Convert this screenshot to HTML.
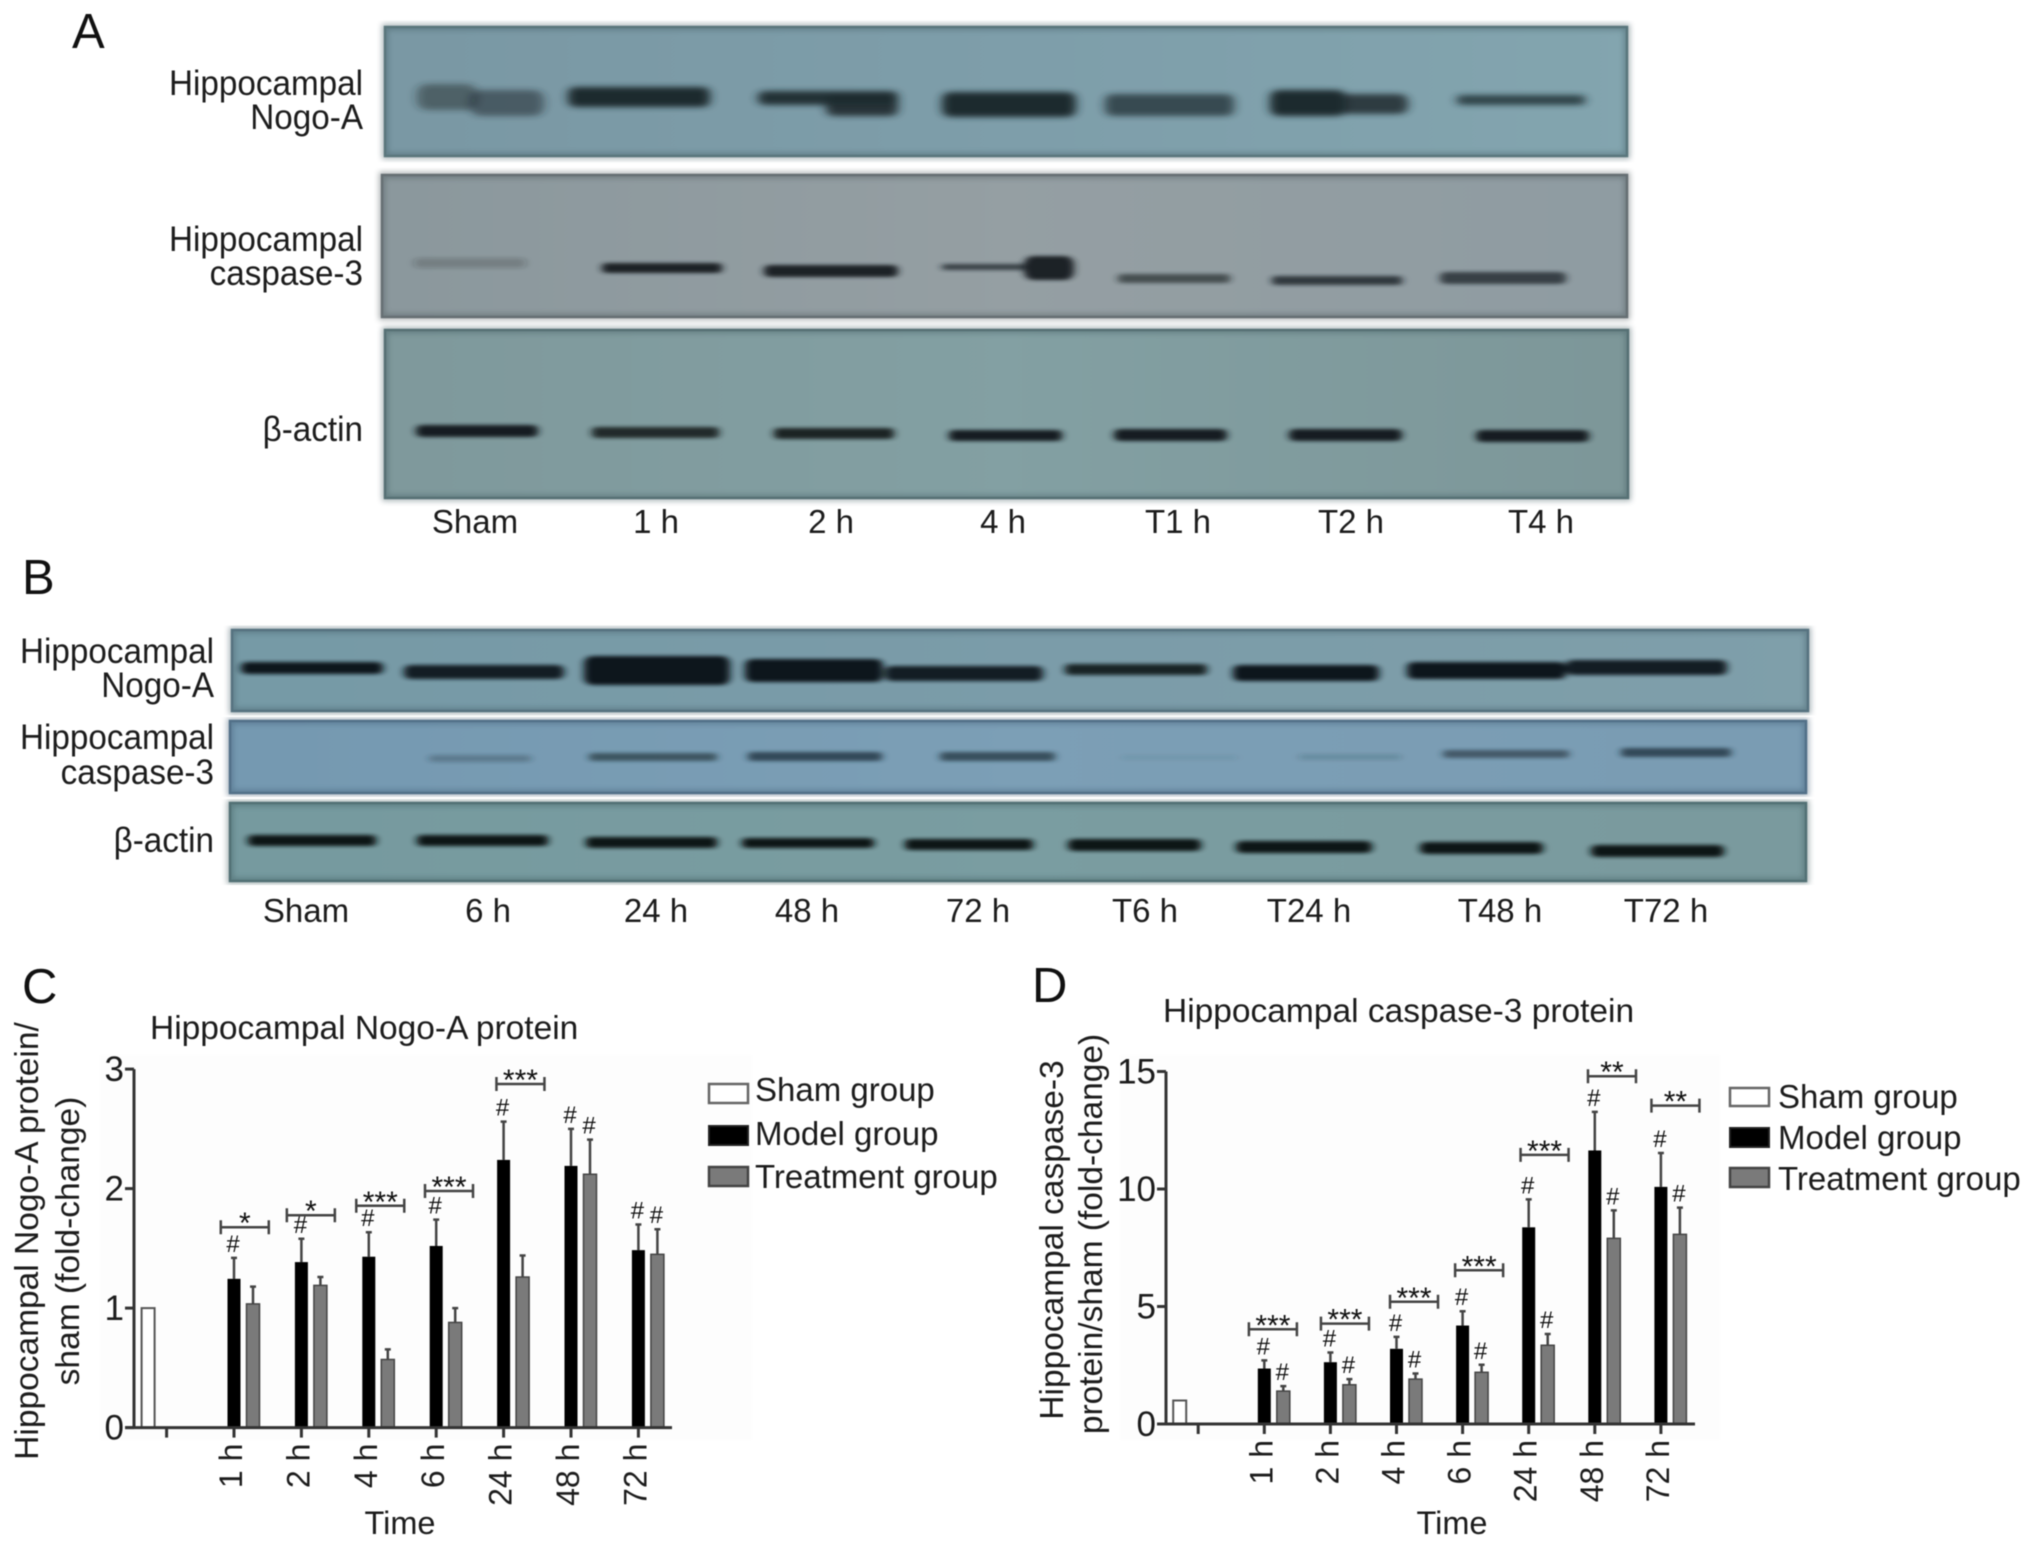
<!DOCTYPE html>
<html lang="en">
<head>
<meta charset="utf-8">
<title>Hippocampal Nogo-A and caspase-3 western blots</title>
<style>
html,body{margin:0;padding:0;background:#fff}
svg{display:block;filter:blur(.65px)}
text{font-family:"Liberation Sans",sans-serif;fill:#1c1c1c}
.lab{font-size:35px;text-anchor:end}
.lane{font-size:33px;text-anchor:middle}
.letter{font-size:49px;fill:#111}
.ttl{font-size:33.5px}
.leg{font-size:33px}
.edge{stroke-width:2.5;fill:none}
.vig{stroke-width:6;fill:none;opacity:.45}
</style>
</head>
<body>
<svg id="figure" xmlns="http://www.w3.org/2000/svg" width="2032" height="1548" viewBox="0 0 2032 1548">
<defs>
<filter id="b3" x="-5%" y="-150%" width="110%" height="400%"><feGaussianBlur stdDeviation="5 3"/></filter>
<filter id="b2" x="-5%" y="-150%" width="110%" height="400%"><feGaussianBlur stdDeviation="4 1.8"/></filter>
<filter id="v" x="-2%" y="-5%" width="104%" height="110%"><feGaussianBlur stdDeviation="3"/></filter>
<linearGradient id="gA1"><stop offset="0" stop-color="#7a98a4"/><stop offset=".5" stop-color="#7e9eaa"/><stop offset="1" stop-color="#83a5af"/></linearGradient>
<linearGradient id="gA2"><stop offset="0" stop-color="#8b989d"/><stop offset=".5" stop-color="#959fa3"/><stop offset="1" stop-color="#8f9ca2"/></linearGradient>
<linearGradient id="gA3"><stop offset="0" stop-color="#7f999c"/><stop offset=".5" stop-color="#83a0a3"/><stop offset="1" stop-color="#7d9799"/></linearGradient>
<linearGradient id="gB1"><stop offset="0" stop-color="#769aa6"/><stop offset=".5" stop-color="#7b9ca9"/><stop offset="1" stop-color="#7f9faa"/></linearGradient>
<linearGradient id="gB2"><stop offset="0" stop-color="#7599b1"/><stop offset=".5" stop-color="#7c9fb6"/><stop offset="1" stop-color="#7a9cb3"/></linearGradient>
<linearGradient id="gB3"><stop offset="0" stop-color="#769a9f"/><stop offset=".5" stop-color="#7a9da1"/><stop offset="1" stop-color="#7a9a9e"/></linearGradient>
</defs>
<rect width="2032" height="1548" fill="#fff"/>

<text class="letter" x="72" y="48">A</text>
<g>
<text class="lab" transform="translate(363,95) scale(.95,1)">Hippocampal</text><text class="lab" transform="translate(363,129) scale(.95,1)">Nogo-A</text>
<text class="lab" transform="translate(363,251) scale(.95,1)">Hippocampal</text><text class="lab" transform="translate(363,285) scale(.95,1)">caspase-3</text>
<text class="lab" transform="translate(363,441) scale(.95,1)">β-actin</text>
</g>

<g>
<rect x="385" y="27" width="1242" height="129" fill="url(#gA1)"/>
<g filter="url(#b3)" fill="#1d2a2e">
<rect x="417" y="84" width="60" height="26" rx="10" opacity=".5"/>
<rect x="470" y="90" width="74" height="26" rx="10" opacity=".55"/>
<rect x="568" y="87" width="142" height="20" rx="7"/>
<rect x="758" y="91" width="140" height="14" rx="6" opacity=".95"/>
<rect x="826" y="94" width="72" height="22" rx="7" opacity=".9"/>
<rect x="942" y="92" width="134" height="25" rx="8"/>
<rect x="1105" y="94" width="129" height="22" rx="7" opacity=".72"/>
<rect x="1270" y="90" width="76" height="26" rx="8"/>
<rect x="1340" y="94" width="68" height="20" rx="8" opacity=".85"/>
<rect x="1457" y="95" width="128" height="10" rx="3" opacity=".8"/>
</g>
<rect class="vig" x="385" y="27" width="1242" height="129" stroke="#3f5a60" filter="url(#v)"/>
<rect class="edge" x="385" y="27" width="1242" height="129" stroke="#5a767c"/>
</g>

<g>
<rect x="382" y="175" width="1245" height="142" fill="url(#gA2)"/>
<g filter="url(#b2)" fill="#1c2225">
<rect x="414" y="258" width="112" height="10" rx="4" opacity=".22"/>
<rect x="602" y="263" width="120" height="10" rx="4" opacity="1"/>
<rect x="764" y="265" width="134" height="12" rx="5" opacity="1"/>
<rect x="942" y="264" width="90" height="6" rx="2" opacity=".75"/>
<rect x="1024" y="256" width="50" height="24" rx="9"/>
<rect x="1118" y="274" width="112" height="9" rx="3" opacity=".65"/>
<rect x="1272" y="276" width="130" height="9" rx="3" opacity=".8"/>
<rect x="1440" y="272" width="126" height="12" rx="5" opacity=".75"/>
</g>
<rect class="vig" x="382" y="175" width="1245" height="142" stroke="#4a5458" filter="url(#v)"/>
<rect class="edge" x="382" y="175" width="1245" height="142" stroke="#666f73"/>
</g>

<g>
<rect x="385" y="330" width="1243" height="168" fill="url(#gA3)"/>
<g filter="url(#b2)" fill="#141e20">
<rect x="416" y="425" width="122" height="12" rx="5"/>
<rect x="592" y="427" width="127" height="11" rx="4" opacity=".9"/>
<rect x="774" y="428" width="120" height="11" rx="4" opacity=".95"/>
<rect x="949" y="430" width="113" height="11" rx="4"/>
<rect x="1114" y="429" width="113" height="12" rx="5"/>
<rect x="1289" y="429" width="113" height="12" rx="5"/>
<rect x="1476" y="430" width="113" height="12" rx="5"/>
</g>
<rect class="vig" x="385" y="330" width="1243" height="168" stroke="#3f5a5e" filter="url(#v)"/>
<rect class="edge" x="385" y="330" width="1243" height="168" stroke="#567074"/>
</g>

<g>
<text class="lane" x="475" y="533">Sham</text><text class="lane" x="656" y="533">1 h</text><text class="lane" x="831" y="533">2 h</text><text class="lane" x="1003" y="533">4 h</text><text class="lane" x="1178" y="533">T1 h</text><text class="lane" x="1351" y="533">T2 h</text><text class="lane" x="1541" y="533">T4 h</text>
</g>

<text class="letter" x="22" y="594">B</text>
<g>
<text class="lab" transform="translate(214,663) scale(.95,1)">Hippocampal</text><text class="lab" transform="translate(214,697) scale(.95,1)">Nogo-A</text>
<text class="lab" transform="translate(214,749) scale(.95,1)">Hippocampal</text><text class="lab" transform="translate(214,784) scale(.95,1)">caspase-3</text>
<text class="lab" transform="translate(214,852) scale(.95,1)">β-actin</text>
</g>

<g>
<rect x="232" y="630" width="1576" height="81" fill="url(#gB1)"/>
<g filter="url(#b2)" fill="#10181b">
<rect x="241" y="662" width="142" height="12" rx="5"/>
<rect x="404" y="665" width="160" height="14" rx="6" opacity=".95"/>
<rect x="584" y="656" width="146" height="29" rx="8"/>
<rect x="745" y="659" width="138" height="23" rx="7"/>
<rect x="885" y="666" width="158" height="15" rx="6" opacity=".95"/>
<rect x="1065" y="664" width="142" height="11" rx="4" opacity=".9"/>
<rect x="1233" y="665" width="146" height="16" rx="6"/>
<rect x="1407" y="662" width="159" height="17" rx="6"/>
<rect x="1566" y="660" width="161" height="15" rx="6" opacity=".95"/>
</g>
<rect class="vig" x="232" y="630" width="1576" height="81" stroke="#3f5a64" filter="url(#v)"/>
<rect class="edge" x="232" y="630" width="1576" height="81" stroke="#567280"/>
</g>

<g>
<rect x="230" y="721" width="1576" height="72" fill="url(#gB2)"/>
<g filter="url(#b2)" fill="#1e2e38">
<rect x="429" y="755" width="102" height="7" rx="3" opacity=".3"/>
<rect x="589" y="753" width="128" height="8" rx="3" opacity=".65"/>
<rect x="748" y="752" width="134" height="9" rx="3" opacity=".75"/>
<rect x="940" y="752" width="115" height="9" rx="3" opacity=".7"/>
<rect x="1121" y="755" width="116" height="5" rx="2" opacity=".08"/>
<rect x="1299" y="754" width="102" height="6" rx="2" opacity=".15"/>
<rect x="1443" y="750" width="126" height="8" rx="3" opacity=".6"/>
<rect x="1621" y="748" width="110" height="9" rx="3" opacity=".75"/>
</g>
<rect class="vig" x="230" y="721" width="1576" height="72" stroke="#3c5a72" filter="url(#v)"/>
<rect class="edge" x="230" y="721" width="1576" height="72" stroke="#527088"/>
</g>

<g>
<rect x="230" y="803" width="1576" height="78" fill="url(#gB3)"/>
<g filter="url(#b2)" fill="#0b1214">
<rect x="248" y="835" width="128" height="11" rx="4"/>
<rect x="417" y="835" width="131" height="11" rx="4"/>
<rect x="586" y="837" width="131" height="11" rx="4"/>
<rect x="742" y="838" width="132" height="10" rx="4"/>
<rect x="905" y="839" width="128" height="11" rx="4"/>
<rect x="1068" y="839" width="133" height="12" rx="5"/>
<rect x="1236" y="841" width="136" height="12" rx="5"/>
<rect x="1420" y="842" width="123" height="12" rx="5"/>
<rect x="1591" y="845" width="133" height="12" rx="5"/>
</g>
<rect class="vig" x="230" y="803" width="1576" height="78" stroke="#3a585c" filter="url(#v)"/>
<rect class="edge" x="230" y="803" width="1576" height="78" stroke="#527074"/>
</g>

<g>
<text class="lane" x="306" y="922">Sham</text><text class="lane" x="488" y="922">6 h</text><text class="lane" x="656" y="922">24 h</text><text class="lane" x="807" y="922">48 h</text><text class="lane" x="978" y="922">72 h</text><text class="lane" x="1145" y="922">T6 h</text><text class="lane" x="1309" y="922">T24 h</text><text class="lane" x="1500" y="922">T48 h</text><text class="lane" x="1666" y="922">T72 h</text>
</g>

<text class="letter" x="22" y="1003">C</text>
<text class="letter" x="1032" y="1002">D</text>

<text class="ttl" x="150" y="1039">Hippocampal Nogo-A protein</text>
<text class="ttl" x="1163" y="1022">Hippocampal caspase-3 protein</text>

<text class="ttl" text-anchor="middle" transform="translate(38,1241) rotate(-90)">Hippocampal Nogo-A protein/</text>
<text class="ttl" text-anchor="middle" transform="translate(79,1241) rotate(-90)">sham (fold-change)</text>
<text class="ttl" text-anchor="middle" transform="translate(1063,1240) rotate(-90)">Hippocampal caspase-3</text>
<text class="ttl" text-anchor="middle" transform="translate(1102,1234) rotate(-90)">protein/sham (fold-change)</text>

<g id="chart-c"></g>
<g id="chart-d"></g>

<g>
<g><rect x="709" y="1084" width="39" height="19" fill="#fff" stroke="#666" stroke-width="2.5"/><text class="leg" x="755" y="1101">Sham group</text></g>
<g><rect x="709" y="1126" width="39" height="19" fill="#000" stroke="#222" stroke-width="2"/><text class="leg" x="755" y="1145">Model group</text></g>
<g><rect x="709" y="1167" width="39" height="19" fill="#7a7a7a" stroke="#444" stroke-width="2.5"/><text class="leg" x="755" y="1188">Treatment group</text></g>
</g>
<g>
<g><rect x="1730" y="1088" width="39" height="18" fill="#fff" stroke="#666" stroke-width="2.5"/><text class="leg" x="1778" y="1108">Sham group</text></g>
<g><rect x="1730" y="1128" width="39" height="19" fill="#000" stroke="#222" stroke-width="2"/><text class="leg" x="1778" y="1149">Model group</text></g>
<g><rect x="1730" y="1168" width="39" height="19" fill="#7a7a7a" stroke="#444" stroke-width="2.5"/><text class="leg" x="1778" y="1190">Treatment group</text></g>
</g>
</svg>

<script>
// Shared categories (the first, unlabelled group holds the sham bar)
const tickLabels = ['', '1 h', '2 h', '4 h', '6 h', '24 h', '48 h', '72 h'];

// Panel C: Nogo-A
const yTicksC = [0, 1, 2, 3];
const shamC = [1, null, null, null, null, null, null, null];
const modelC = [null, 1.245, 1.385, 1.43, 1.52, 2.24, 2.19, 1.485];
const treatC = [null, 1.035, 1.19, 0.57, 0.88, 1.26, 2.12, 1.45];
const modelErrC = [null, 0.175, 0.195, 0.205, 0.22, 0.32, 0.31, 0.215];
const treatErrC = [null, 0.145, 0.07, 0.085, 0.12, 0.18, 0.29, 0.21];
const modelHashC = [0, 1, 1, 1, 1, 1, 1, 1];
const treatHashC = [0, 0, 0, 0, 0, 0, 1, 1];
const starsC = ['', '*', '*', '***', '***', '***', '', ''];
const bracketLevelC = [null, 1.677, 1.777, 1.856, 1.98, 2.875, null, null];
const bracketAtC = [null, 1.16, 2.14, 3.17, 4.19, 5.25, null, null];

// Panel D: caspase-3
const yTicksD = [0, 5, 10, 15];
const shamD = [1, null, null, null, null, null, null, null];
const modelD = [null, 2.36, 2.63, 3.2, 4.19, 8.37, 11.64, 10.09];
const treatD = [null, 1.4, 1.67, 1.91, 2.2, 3.35, 7.9, 8.07];
const modelErrD = [null, 0.35, 0.41, 0.51, 0.61, 1.19, 1.64, 1.44];
const treatErrD = [null, 0.21, 0.24, 0.24, 0.32, 0.48, 1.19, 1.14];
const modelHashD = [0, 1, 1, 1, 1, 1, 1, 1];
const treatHashD = [0, 1, 1, 1, 1, 1, 1, 1];
const starsD = ['', '***', '***', '***', '***', '***', '**', '**'];
const bracketLevelD = [null, 4.03, 4.27, 5.2, 6.54, 11.45, 14.8, 13.55];
const bracketAtD = [null, 1.13, 2.22, 3.265, 4.25, 5.24, 6.26, 7.22];

const NS = 'http://www.w3.org/2000/svg';

function make(parent, tag, attrs, txt) {
  const n = document.createElementNS(NS, tag);
  for (const k in attrs) n.setAttribute(k, attrs[k]);
  if (txt !== undefined) n.textContent = txt;
  parent.appendChild(n);
  return n;
}

function drawChart(root, o) {
  const ink = '#333';
  const xAt = i => o.x0 + o.step * i;
  const yAt = v => o.y0 - v * o.unit;
  const half = 6.5, off = 18.5;

  const plot = make(root, 'rect', {x: o.bgX, y: o.bgY, width: o.bgW, height: o.bgH, fill: '#fdfdfd'});
  
  

  // Bars and error bars
  o.labels.forEach((lab, i) => {
    if (o.sham[i] !== null) {
      const el = make(root, 'rect', {x: xAt(i) - off - half, y: yAt(o.sham[i]), width: half * 2, height: o.y0 - yAt(o.sham[i]), fill: '#fff', stroke: '#555', 'stroke-width': 2});
      
      
    }
    if (o.model[i] !== null) {
      const cx = xAt(i), top = yAt(o.model[i]), errTop = yAt(o.model[i] + o.modelErr[i]);
      const err = make(root, 'path', {d: `M${cx} ${top}V${errTop}M${cx - 3} ${errTop}H${cx + 3}`, stroke: '#444', 'stroke-width': 2.5, fill: 'none'});
      
      
      const el = make(root, 'rect', {x: cx - half, y: top, width: half * 2, height: o.y0 - top, fill: '#000'});
      
      
      if (o.modelHash[i]) {
        const h = make(root, 'text', {x: cx - 1, y: errTop - 6, 'text-anchor': 'middle', 'font-size': 24, fill: '#111', style: 'fill:#111'}, '#');
        
        
      }
    }
    if (o.treat[i] !== null) {
      const cx = xAt(i) + off + 0.5, top = yAt(o.treat[i]), errTop = yAt(o.treat[i] + o.treatErr[i]);
      const err = make(root, 'path', {d: `M${cx} ${top}V${errTop}M${cx - 3} ${errTop}H${cx + 3}`, stroke: '#444', 'stroke-width': 2.5, fill: 'none'});
      
      
      const el = make(root, 'rect', {x: cx - half, y: top, width: half * 2, height: o.y0 - top, fill: '#7a7a7a', stroke: '#444', 'stroke-width': 1.5});
      
      
      if (o.treatHash[i]) {
        const h = make(root, 'text', {x: cx - 1, y: errTop - 6, 'text-anchor': 'middle', 'font-size': 24, style: 'fill:#111'}, '#');
        
        
      }
    }
    if (o.level[i] !== null) {
      const bx = xAt(o.at[i]), by = yAt(o.level[i]), w = 24;
      const br = make(root, 'path', {d: `M${bx - w} ${by - 7}V${by + 7}M${bx - w} ${by}H${bx + w}M${bx + w} ${by - 7}V${by + 7}`, stroke: '#444', 'stroke-width': 2.5, fill: 'none'});
      
      
      const s = make(root, 'text', {x: bx, y: by + 6, 'text-anchor': 'middle', 'font-size': 30, style: 'fill:#111'}, o.stars[i]);
      
      
    }
  });

  // Y axis
  const yAxis = make(root, 'path', {d: `M${o.axisX} ${yAt(o.ticks[o.ticks.length - 1])}V${o.y0}`, stroke: ink, 'stroke-width': 3, fill: 'none'});
  
  
  o.ticks.forEach(t => {
    const tk = make(root, 'path', {d: `M${o.axisX - 9} ${yAt(t)}H${o.axisX}`, stroke: ink, 'stroke-width': 3, fill: 'none'});
    
    
    const lb = make(root, 'text', {x: o.axisX - 10, y: yAt(t) + 12, 'text-anchor': 'end', 'font-size': 35}, String(t));
    
    
  });

  // X axis
  const xAxis = make(root, 'path', {d: `M${o.axisX - 9} ${o.y0}H${o.xEnd}`, stroke: ink, 'stroke-width': 3, fill: 'none'});
  
  
  o.labels.forEach((lab, i) => {
    const tk = make(root, 'path', {d: `M${xAt(i)} ${o.y0}V${o.y0 + 10}`, stroke: ink, 'stroke-width': 3, fill: 'none'});
    
    
    if (lab) {
      const lb = make(root, 'text', {transform: `translate(${xAt(i) + 8},${o.y0 + 16}) rotate(-90)`, 'text-anchor': 'end', 'font-size': 32}, lab);
      
      
    }
  });

  const xt = make(root, 'text', {x: o.timeX, y: 1534, 'text-anchor': 'middle', 'font-size': 32.5}, 'Time');
  
  
}

drawChart(document.getElementById('chart-c'), {
  labels: tickLabels, ticks: yTicksC, sham: shamC, model: modelC, treat: treatC,
  modelErr: modelErrC, treatErr: treatErrC, modelHash: modelHashC, treatHash: treatHashC,
  stars: starsC, level: bracketLevelC, at: bracketAtC,
  x0: 166.6, step: 67.4, y0: 1427.6, unit: 119.5,
  axisX: 134, xEnd: 672, timeX: 400,
  bgX: 100, bgY: 1055, bgW: 652, bgH: 385
});
drawChart(document.getElementById('chart-d'), {
  labels: tickLabels, ticks: yTicksD, sham: shamD, model: modelD, treat: treatD,
  modelErr: modelErrD, treatErr: treatErrD, modelHash: modelHashD, treatHash: treatHashD,
  stars: starsD, level: bracketLevelD, at: bracketAtD,
  x0: 1198.2, step: 66.1, y0: 1424, unit: 23.5,
  axisX: 1166, xEnd: 1695, timeX: 1452,
  bgX: 1120, bgY: 1055, bgW: 600, bgH: 385
});
</script>
</body>
</html>
